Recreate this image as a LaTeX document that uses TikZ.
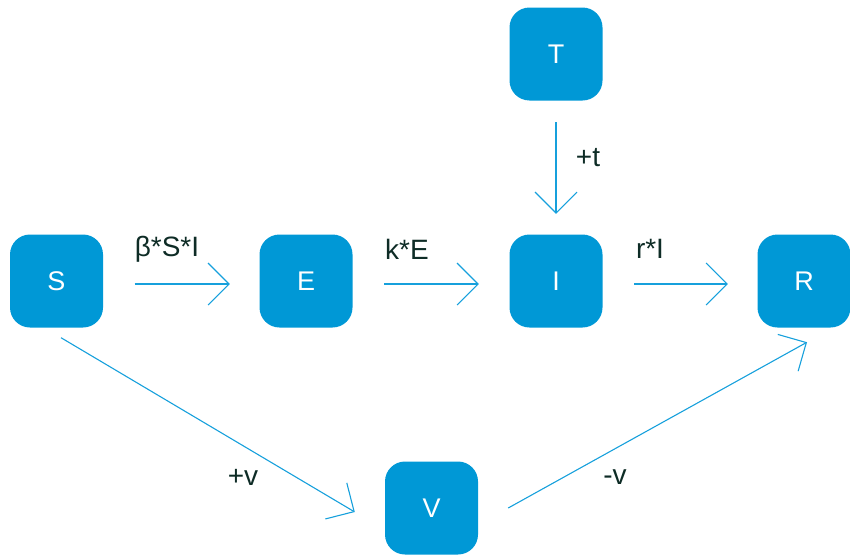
\documentclass[tikz,border=0pt]{standalone}
\usepackage{fontspec}
\setmainfont{Liberation Sans}
\usetikzlibrary{arrows.meta}
\definecolor{boxblue}{RGB}{0,152,214}
\definecolor{lineblue}{RGB}{22,160,220}
\definecolor{labeltext}{RGB}{14,44,38}
\tikzset{
  box/.style={fill=boxblue, rounded corners=20pt, minimum width=93pt, minimum height=93pt, inner sep=0pt, text=white, font=\fontsize{27}{32}\selectfont},
  arr/.style={draw=lineblue, line width=1.1pt, -{Straight Barb[length=21pt, width=42pt, line width=1.1pt]}},
  lbl/.style={text=labeltext, font=\fontsize{28}{33}\selectfont, inner sep=0pt}
}
\begin{document}
\begin{tikzpicture}[x=1pt, y=-1pt]
\useasboundingbox (0,0) rectangle (850,554);
\node[box] (S) at (56.5,281) {S};
\node[box] (E) at (306,281) {E};
\node[box] (I) at (556,281) {I};
\node[box] (R) at (804,281) {R};
\node[box] (T) at (556,54) {T};
\node[box] (V) at (431.5,508) {V};
\draw[arr] ([shift={(31.5,3)}]S.east) -- ([shift={(-29.5,3)}]E.west);
\draw[arr] ([shift={(31.5,3)}]E.east) -- ([shift={(-30.5,3)}]I.west);
\draw[arr] ([shift={(31.5,3)}]I.east) -- ([shift={(-29.5,3)}]R.west);
\draw[arr] ([shift={(0,21.5)}]T.south) -- ([shift={(0,-20.5)}]I.north);
\draw[arr] ([shift={(4.5,10)}]S.south) -- ([shift={(-30,4)}]V.west);
\draw[arr] ([shift={(30,0)}]V.east) -- ([shift={(3,14.5)}]R.south);
\node[lbl] (l1) at (167,249) {β*S*I};
\node[lbl] (l2) at (407,249) {k*E};
\node[lbl] (l3) at (650,249) {r*I};
\node[lbl] (l4) at (588,158) {+t};
\node[lbl] (l5) at (243,477) {+v};
\node[lbl] (l6) at (615,477) {-v};
\end{tikzpicture}
\end{document}
